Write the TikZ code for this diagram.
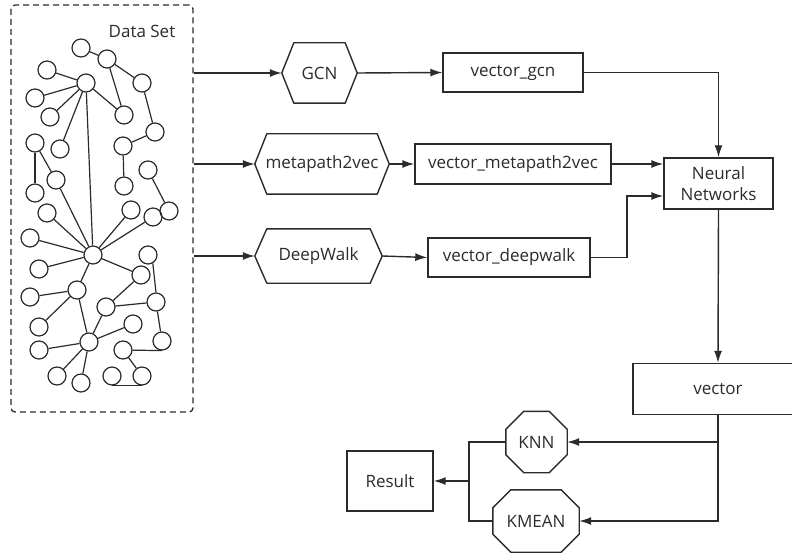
\documentclass[tikz,border=0pt]{standalone}
\usepackage{fontspec}
\setmainfont{Open Sans}
\usetikzlibrary{arrows.meta}

\definecolor{ink}{HTML}{2B2B2B}

\tikzset{
  boxline/.style={draw=ink,line width=1.4pt},
  flowbox/.style={boxline,rectangle,inner sep=0pt,text=ink,font=\fontsize{17}{21}\selectfont},
  shapebox/.style={rectangle,inner sep=0pt,text=ink,font=\fontsize{17}{21}\selectfont},
  arr/.style={draw=ink,line width=1.4pt,-{Latex[length=12pt,width=8pt]}},
  link/.style={draw=ink,line width=1.4pt},
  gnode/.style={circle,draw=ink,line width=1.2pt,minimum size=18pt,inner sep=0pt},
  gedge/.style={draw=ink,line width=1.2pt}
}

% outline of a hexagon / octagon round a named node
\newcommand\hexof[1]{\draw[boxline,line join=round] (#1.west) -- ([xshift=12pt]#1.north west)
  -- ([xshift=-12pt]#1.north east) -- (#1.east) -- ([xshift=-12pt]#1.south east)
  -- ([xshift=12pt]#1.south west) -- cycle;}
\newcommand\octof[1]{\draw[boxline] ([xshift=18pt]#1.north west) -- ([xshift=-18pt]#1.north east)
  -- ([yshift=-18pt]#1.north east) -- ([yshift=18pt]#1.south east)
  -- ([xshift=-18pt]#1.south east) -- ([xshift=18pt]#1.south west)
  -- ([yshift=18pt]#1.south west) -- ([yshift=-18pt]#1.north west) -- cycle;}

\begin{document}
\begin{tikzpicture}[x=1pt,y=-1pt]
	\useasboundingbox (0,0) rectangle (792,556);

	% data set
	\node (data) [draw=ink,line width=1.3pt,dash pattern=on 6pt off 4pt,rounded corners=4pt,
		minimum width=182pt,minimum height=407pt] at (102,208.5) {};
	\node (title) [text=ink,font=\fontsize{17}{21}\selectfont] at (142,31) {Data Set};

	\begin{scope}[every node/.style={gnode}]
	\node (v1) at (81,48) {};
	\node (v2) at (107,59) {};
	\node (v3) at (47,70) {};
	\node (h1) at (86,83) {};
	\node (v5) at (142,83) {};
	\node (v6) at (35,98) {};
	\node (v7) at (50,117) {};
	\node (v8) at (124,115) {};
	\node (v9) at (155,132) {};
	\node (v10) at (35,143) {};
	\node (v11) at (60,149) {};
	\node (v12) at (123,146) {};
	\node (v13) at (148,170) {};
	\node (v14) at (56,180) {};
	\node (v15) at (35,193) {};
	\node (v16) at (124,186) {};
	\node (v17) at (169,211) {};
	\node (v18) at (47,213) {};
	\node (v19) at (131,210) {};
	\node (v20) at (153,217) {};
	\node (v21) at (30,238) {};
	\node (h2) at (93,255) {};
	\node (v22) at (148,255) {};
	\node (v23) at (39,269) {};
	\node (v24) at (141,275) {};
	\node (v25) at (77,290) {};
	\node (v26) at (30,297) {};
	\node (v27) at (156,302) {};
	\node (v28) at (106,307) {};
	\node (v29) at (39,327) {};
	\node (v30) at (133,324) {};
	\node (v31) at (89,342) {};
	\node (v32) at (162,341) {};
	\node (v33) at (39,350) {};
	\node (v34) at (123,350) {};
	\node (v35) at (57,376) {};
	\node (v36) at (81,383) {};
	\node (v37) at (112,376) {};
	\node (v38) at (142,376) {};
	\end{scope}
	\draw [gedge] (v1) -- (v2);
	\draw [gedge] (v2) -- (v5);
	\draw [gedge] (v2) -- (v8);
	\draw [gedge] (v3) -- (h1);
	\draw [gedge] (h1) -- (v6);
	\draw [gedge] (h1) -- (v7);
	\draw [gedge] (h1) -- (v8);
	\draw [gedge] (h1) -- (v11);
	\draw [gedge] (h1) -- (h2);
	\draw [gedge] (v5) -- (v9);
	\draw [gedge] (v9) -- (v12);
	\draw [gedge] (v12) -- (v16);
	\draw [gedge] (v10) -- (v15);
	\draw [gedge] (v10) -- (v14);
	\draw [gedge] (v14) -- (h2);
	\draw [gedge] (v13) -- (v17);
	\draw [gedge] (v18) -- (h2);
	\draw [gedge] (v21) -- (h2);
	\draw [gedge] (v19) -- (h2);
	\draw [gedge] (v20) -- (h2);
	\draw [gedge] (v23) -- (h2);
	\draw [gedge] (h2) -- (v24);
	\draw [gedge] (h2) -- (v25);
	\draw [gedge] (v22.-60) -- (v27.north);
	\draw [gedge] (v24) -- (v28);
	\draw [gedge] (v28) -- (v27);
	\draw [gedge] (v26) -- (v25);
	\draw [gedge] (v25) -- (v29);
	\draw [gedge] (v25) -- (v31);
	\draw [gedge] (v28) -- (v31);
	\draw [gedge] (v31) -- (v30);
	\draw [gedge] (v27) -- (v32);
	\draw [gedge] (v33) -- (v31);
	\draw [gedge] (v31) -- (v35);
	\draw [gedge] (v31) -- (v36);
	\draw [gedge] (v34) -- (v32.south);
	\draw [gedge] (v34) -- (v38);
	\draw [gedge] (v37.south) -- (v38.south);

	% embedding methods
	\node (gcn) [shapebox,minimum width=75pt,minimum height=60pt] at (319.5,73) {GCN};
	\node (meta) [shapebox,minimum width=134pt,minimum height=60pt] at (322,164) {metapath2vec};
	\node (deep) [shapebox,minimum width=127pt,minimum height=54pt] at (318.5,256) {DeepWalk};
	\hexof{gcn}
	\hexof{meta}
	\hexof{deep}

	\node (vgcn) [flowbox,minimum width=140pt,minimum height=39pt] at (513,72.5) {vector\_gcn};
	\node (vmeta) [flowbox,minimum width=196pt,minimum height=40pt] at (513,164) {vector\_metapath2vec};
	\node (vdeep) [flowbox,minimum width=162pt,minimum height=39pt] at (509,257.5) {vector\_deepwalk};
	\node (nn) [flowbox,align=center,minimum width=109pt,minimum height=51pt] at (718.5,183.5) {Neural\\Networks};
	\node (vec) [flowbox,minimum width=170pt,minimum height=51pt] at (718,389) {vector};

	% classifiers
	\node (knn) [shapebox,minimum width=61pt,minimum height=61pt] at (536.5,442) {KNN};
	\node (kmean) [shapebox,minimum width=86pt,minimum height=62pt] at (536,521) {KMEAN};
	\octof{knn}
	\octof{kmean}
	\node (res) [flowbox,minimum width=86pt,minimum height=60pt] at (390,481) {Result};

	\coordinate (turn) at (627,257.5);
	\coordinate (join) at (469,481);

	\draw [arr] (data.east |- gcn.west) -- (gcn.west);
	\draw [arr] (data.east |- meta.west) -- (meta.west);
	\draw [arr] (data.east |- deep.west) -- (deep.west);
	\draw [arr] (gcn.east) -- (vgcn.west);
	\draw [arr] (meta.east) -- (vmeta.west);
	\draw [arr] (deep.east) -- (vdeep.west);
	\draw [arr] (vgcn.east) -| (nn.north);
	\draw [arr] (vmeta.east) -- (nn.west |- vmeta.east);
	\draw [arr] (vdeep.east) -- (turn) |- ([yshift=-12.5pt]nn.west);
	\draw [arr] (nn.south) -- (vec.north);
	\draw [arr] (vec.south) |- (knn.east);
	\draw [arr] (vec.south) |- (kmean.east);
	\draw [link] (knn.west) -| (join);
	\draw [link] (kmean.west) -| (join);
	\draw [arr] (join) -- (res.east);
\end{tikzpicture}
\end{document}
